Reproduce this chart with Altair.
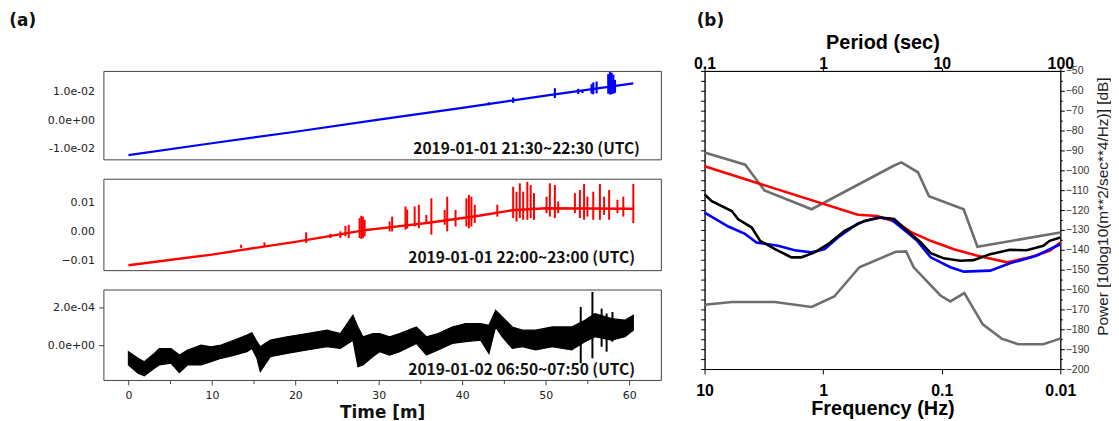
import altair as alt
import pandas as pd

# ---------------- panel (a) data ----------------
labels_a = ["2019-01-01 21:30~22:30 (UTC)",
            "2019-01-01 22:00~23:00 (UTC)",
            "2019-01-02 06:50~07:50 (UTC)"]

blue_t = [0, 10, 20, 30, 40, 50, 60.5]
blue_v = [-0.0121, -0.0080, -0.0040, 0.0002, 0.0043, 0.0085, 0.0128]
blue_spike_t = [43.2, 46.1, 51.1, 53.9, 54.4, 55.5, 55.7, 56.1, 57.5, 57.7, 57.9, 58.1, 58.3]
blue_spike_lo = [0.0052, 0.0060, 0.0077, 0.0091, 0.0094, 0.0092, 0.0090, 0.0093,
                 0.0092, 0.0089, 0.0090, 0.0092, 0.0095]
blue_spike_hi = [0.0062, 0.0079, 0.0111, 0.0109, 0.0105, 0.0125, 0.0131, 0.0134,
                 0.0160, 0.0167, 0.0165, 0.0158, 0.0140]

red_t = [0, 10, 20, 28.5, 31, 36, 42, 46, 50, 55, 60.5]
red_v = [-0.0117, -0.0080, -0.0036, 0.0005, 0.0013, 0.0030, 0.0054, 0.0073, 0.0080, 0.0079, 0.0078]
red_spike_t = [13.5, 16.3, 21.3, 24.2, 25.4, 26.0, 26.4, 27.7, 27.9, 28.1, 28.3,
               31.3, 31.6, 33.2, 33.4, 34.3, 34.8, 35.7, 36.3, 37.9, 38.2, 39.2,
               40.5, 40.8, 41.1, 41.5, 44.2, 46.1, 46.5, 46.9, 47.3, 47.8, 48.2,
               48.6, 50.1, 50.5, 51.1, 51.5, 53.5, 54.1, 54.6, 55.0, 55.7, 56.5,
               57.0, 57.6, 58.6, 59.3, 60.5]
red_spike_lo = [-5.7, -5.4, -4.0, -2.3, -2.3, -1.7, -2.3, -2.3, -2.6, -2.3, -1.7,
                0.0, 0.0, 0.6, 1.0, 1.7, 1.1, 2.9, -1.1, 2.3, 0.0, 1.7,
                1.7, 1.1, 1.7, 2.9, 5.1, 4.6, 3.4, 4.6, 4.0, 4.0, 4.6,
                4.0, 6.3, 5.1, 4.6, 6.3, 6.3, 4.6, 4.0, 5.1, 4.0, 4.0,
                5.7, 4.0, 6.3, 5.1, 2.9]
red_spike_hi = [-4.6, -3.8, -0.3, -0.8, 0.0, 1.9, 2.3, 4.6, 5.4, 5.1, 4.0,
                3.4, 5.1, 8.6, 7.5, 8.6, 9.2, 5.7, 11.4, 7.4, 12.0, 7.4,
                11.4, 12.6, 12.0, 9.2, 9.2, 15.4, 13.7, 16.6, 13.7, 17.1, 16.0,
                13.2, 12.0, 16.6, 16.0, 10.3, 13.2, 14.3, 16.4, 12.0, 13.7, 16.4,
                12.0, 14.3, 10.9, 12.0, 16.4]

black_t = [0.0, 1.15, 1.9, 3.1, 3.7, 5.1, 6.1, 7.1, 8.7, 9.9, 11.1, 12.7, 14.2, 14.8,
           15.4, 15.8, 17.0, 19.0, 21.4, 23.8, 25.4, 26.9, 27.5, 28.1, 29.3, 30.1,
           31.3, 32.5, 34.5, 35.7, 37.1, 38.8, 40.4, 42.2, 43.2, 44.0, 44.8, 46.0,
           47.2, 48.8, 50.8, 53.1, 54.7, 55.9, 57.9, 59.5, 60.5]
black_hi = [-0.35, -0.70, -0.88, -0.44, -0.18, -0.18, -0.53, -0.26, 0.0, -0.09, 0.0, 0.26,
            0.53, 0.65, 0.18, -0.09, 0.26, 0.44, 0.61, 0.79, 0.61, 1.58, 0.96, 0.44, 0.61,
            0.61, 0.44, 0.61, 0.96, 0.44, 0.61, 0.96, 1.14, 1.14, 1.05, 1.84, 1.49, 0.96,
            0.79, 0.79, 0.96, 0.96, 1.32, 1.67, 1.40, 1.32, 1.58]
black_lo = [-1.05, -1.49, -1.63, -1.23, -1.05, -0.96, -1.46, -1.05, -1.05, -0.88, -0.70, -0.53,
            -0.35, -0.18, -0.70, -1.40, -0.61, -0.44, -0.26, -0.09, -0.18, 0.26, -1.14, -1.05,
            -0.61, -0.35, -0.53, -0.35, 0.09, -0.53, -0.26, 0.09, 0.18, 0.26, -0.44, 0.96,
            0.44, -0.18, -0.09, -0.26, -0.09, -0.26, 0.18, 0.44, 0.26, 0.44, 0.79]
black_spike_t = [54.2, 55.6, 56.7, 57.3, 58.0]
black_spike_lo = [-0.96, -0.70, -0.09, -0.35, 0.18]
black_spike_hi = [2.02, 2.81, 1.93, 1.67, 1.75]

# ---------------- panel (b) data ----------------
nhnm_T = [0.1, 0.22, 0.32, 0.8, 3.97, 4.57, 6.3, 7.8, 15.3, 20, 100]
nhnm_db = [-91, -97.2, -110.2, -119.6, -97.6, -96, -101, -113, -119.6, -138.5, -131.3]
nlnm_T = [0.1, 0.17, 0.39, 0.8, 1.24, 2.02, 4.1, 5.0, 5.8, 9.75, 11.8, 15.5, 22.2, 32, 44, 71.8, 100]
nlnm_db = [-167.7, -166.3, -166.3, -168.8, -163.5, -148.8, -141, -140.8, -148.8, -163, -166,
           -161.8, -177.5, -184.7, -187.5, -187.5, -184.7]

red_f = [10, 0.51, 0.35, 0.237, 0.183, 0.124, 0.079, 0.05, 0.028, 0.018, 0.0123, 0.01]
red_db = [-98, -122.4, -123, -126.3, -131, -135.5, -139.7, -143, -146.3, -143.8, -140.5, -136.3]
blue_f = [10, 6.3, 4.56, 3.65, 2.4, 1.74, 1.26, 0.97, 0.75, 0.51, 0.35, 0.27, 0.195, 0.161,
          0.124, 0.0845, 0.065, 0.039, 0.0266, 0.0159, 0.01]
blue_db = [-121.3, -128.3, -132, -136.3, -138, -140.2, -141.3, -139.7, -133.8, -126.7, -123.8,
           -124.5, -131.3, -135.5, -143.8, -148.8, -151, -150.5, -146.8, -143, -137.2]
black_f = [10, 8.7, 5.9, 5.2, 4.0, 3.4, 2.55, 1.85, 1.53, 1.18, 0.91, 0.66, 0.45, 0.326, 0.252,
           0.195, 0.15, 0.124, 0.096, 0.07, 0.054, 0.039, 0.0266, 0.0192, 0.0139, 0.0123, 0.01]
black_db = [-112.2, -115.5, -120.5, -124.7, -128.8, -135.5, -139.7, -143.8, -143.8, -141.3, -137.2,
            -130.5, -125.5, -123.8, -124.5, -130.5, -136.3, -141.7, -144.3, -145.5, -145.2, -142.2,
            -140, -140.2, -138, -135.5, -133.8]

# ---------------- styling ----------------
FA = "DejaVu Sans"
FK = "Noto Sans CJK KR"
FB = "Liberation Sans"
FRAME = "#444444"
W = 561
H1, H2, H3 = 89, 92, 91

xs = alt.Scale(domain=[-3.0, 63.8], nice=False, zero=False)


def yaxis(values, label_expr=None, fmt=None, ticks_visible=False):
    kw = dict(values=values, title=None, grid=False, domain=False, labelFont=FA, labelFontSize=11,
              labelColor="#222", tickSize=5, labelPadding=4, tickColor=FRAME, labelFlush=False,
              labelOverlap=False)
    if label_expr:
        kw["labelExpr"] = label_expr
    if fmt:
        kw["format"] = fmt
    if not ticks_visible:
        kw["tickOpacity"] = 0
    return alt.Axis(**kw)


def annotation(text, h, right_in, bottom_in):
    return alt.Chart(pd.DataFrame({"label": [text]})).mark_text(
        font=FK, fontSize=15.6, fontWeight="bold", align="right", baseline="alphabetic", color="#111"
    ).encode(x=alt.value(W - right_in), y=alt.value(h - bottom_in), text="label:N")


# top panel (blue)
ys1 = alt.Scale(domain=[-0.01359, 0.0171], nice=False, zero=False)
ax1 = yaxis([-0.01, 0, 0.01],
            "datum.value > 0.005 ? '1.0e-02' : (datum.value < -0.005 ? '-1.0e-02' : '0.0e+00')")
p1_line = alt.Chart(pd.DataFrame({"t": blue_t, "v": blue_v})).mark_line(
    color="#0000ff", strokeWidth=2.2).encode(
    x=alt.X("t:Q", scale=xs, axis=None), y=alt.Y("v:Q", scale=ys1, axis=ax1))
p1_sp = alt.Chart(pd.DataFrame({"t": blue_spike_t, "lo": blue_spike_lo, "hi": blue_spike_hi})).mark_rule(
    color="#0000ff", strokeWidth=2.2).encode(
    x=alt.X("t:Q", scale=xs, axis=None), y=alt.Y("lo:Q", scale=ys1, axis=ax1), y2="hi:Q")
tag_a = alt.Chart(pd.DataFrame({"label": ["(a)"]})).mark_text(
    font=FA, fontSize=17, fontWeight="bold", align="left", baseline="alphabetic", color="#111"
).encode(x=alt.value(-94.7), y=alt.value(-45.4), text="label:N")
p1 = alt.layer(p1_line, p1_sp, annotation(labels_a[0], H1, 21, 5.5), tag_a).properties(width=W, height=H1)

# middle panel (red)
ys2 = alt.Scale(domain=[-0.01338, 0.01818], nice=False, zero=False)
ax2 = yaxis([-0.01, 0, 0.01], fmt=".2f")
red_sp = pd.DataFrame({"t": red_spike_t,
                       "lo": [v / 1000 for v in red_spike_lo],
                       "hi": [v / 1000 for v in red_spike_hi]})
p2_line = alt.Chart(pd.DataFrame({"t": red_t, "v": red_v})).mark_line(
    color="#ff0000", strokeWidth=2.4).encode(
    x=alt.X("t:Q", scale=xs, axis=None), y=alt.Y("v:Q", scale=ys2, axis=ax2))
p2_sp = alt.Chart(red_sp).mark_rule(color="#ff0000", strokeWidth=2).encode(
    x=alt.X("t:Q", scale=xs, axis=None), y=alt.Y("lo:Q", scale=ys2, axis=ax2), y2="hi:Q")
p2 = alt.layer(p2_line, p2_sp, annotation(labels_a[1], H2, 26, 7.3)).properties(width=W, height=H2)

# bottom panel (black)
ys3 = alt.Scale(domain=[-1.847e-4, 2.942e-4], nice=False, zero=False)
ax3 = yaxis([0, 2e-4], "datum.value > 0.0001 ? '2.0e-04' : '0.0e+00'", ticks_visible=True)
xax3 = alt.Axis(values=list(range(0, 61, 5)),
                labelExpr="datum.value % 10 === 0 ? datum.label : ''",
                title="Time [m]", titleFont=FA, titleFontSize=17, titleFontWeight="bold",
                titleColor="#111", titlePadding=4, labelFont=FA, labelFontSize=11,
                labelColor="#222", labelPadding=5,
                tickSize={"condition": {"test": "datum.value % 10 === 0", "value": 5}, "value": 3.5},
                tickColor=FRAME, domain=False, grid=False, labelFlush=False, labelOverlap=False)
band = pd.DataFrame({"t": black_t, "lo": [v * 1e-4 for v in black_lo], "hi": [v * 1e-4 for v in black_hi]})
bsp = pd.DataFrame({"t": black_spike_t, "lo": [v * 1e-4 for v in black_spike_lo],
                    "hi": [v * 1e-4 for v in black_spike_hi]})
p3_band = alt.Chart(band).mark_area(color="#000000", opacity=1, stroke="#000000", strokeWidth=1.2).encode(
    x=alt.X("t:Q", scale=xs, axis=xax3), y=alt.Y("hi:Q", scale=ys3, axis=ax3), y2="lo:Q")
p3_sp = alt.Chart(bsp).mark_rule(color="#000000", strokeWidth=2).encode(
    x=alt.X("t:Q", scale=xs, axis=xax3), y=alt.Y("lo:Q", scale=ys3, axis=ax3), y2="hi:Q")
p3 = alt.layer(p3_band, p3_sp, annotation(labels_a[2], H3, 26, 4.7)).properties(width=W, height=H3)

left = alt.vconcat(p1, p2, p3, spacing=17.5)

# ---------------- panel (b) ----------------
yb = alt.Scale(domain=[-200, -50], nice=False, zero=False)
left_ax = alt.Axis(orient="left", values=list(range(-200, -49, 5)), labels=False, tickSize=4,
                   tickColor="#000", domainColor="#000", title=None, grid=False)
right_ax = alt.Axis(orient="right", values=list(range(-200, -49, 5)),
                    labelExpr="datum.value % 10 === 0 ? datum.label : ''", format="d",
                    tickSize={"condition": {"test": "datum.value % 10 === 0", "value": 4}, "value": 2},
                    labelFont=FB, labelFontSize=10.5, labelColor="#333", labelPadding=1,
                    title="Power [10log10(m**2/sec**4/Hz)] [dB]", titleFont=FB, titleFontSize=15.5,
                    titleFontWeight="normal", titleColor="#222", titleAngle=270, titleX=42,
                    titleY=136, titleAlign="center", titleBaseline="middle",
                    domainColor="#000", tickColor="#000", grid=False, labelOverlap=False,
                    labelFlush=False)
top_ax = alt.Axis(orient="top", values=[0.1, 1, 10, 100], format="~g", title="Period (sec)",
                  titleFont=FB, titleFontSize=20, titleFontWeight="bold", titleColor="#000",
                  titlePadding=3, labelFont=FB, labelFontSize=16, labelFontWeight="bold",
                  labelColor="#000", labelPadding=-3.7, tickSize=3, tickColor="#000",
                  domainColor="#000", grid=False, labelFlush=False, labelOverlap=False)
bot_ax = alt.Axis(orient="bottom", values=[10, 1, 0.1, 0.01], format="~g", title="Frequency (Hz)",
                  titleFont=FB, titleFontSize=20, titleFontWeight="bold", titleColor="#000",
                  titlePadding=0, labelFont=FB, labelFontSize=16, labelFontWeight="bold",
                  labelColor="#000", labelPadding=9, tickSize=5, tickColor="#000",
                  domainColor="#000", grid=False, labelFlush=False, labelOverlap=False)

nm_df = pd.DataFrame({"period": nhnm_T + nlnm_T, "db": nhnm_db + nlnm_db,
                      "model": ["NHNM"] * len(nhnm_T) + ["NLNM"] * len(nlnm_T)})
psd_df = pd.DataFrame({"freq": red_f + blue_f + black_f, "db": red_db + blue_db + black_db,
                       "series": ["red"] * len(red_f) + ["blue"] * len(blue_f) + ["black"] * len(black_f)})

grey = alt.Chart(nm_df).mark_line(color="#6e6e6e", strokeWidth=2.6).encode(
    x=alt.X("period:Q", scale=alt.Scale(type="log", domain=[0.1, 100], nice=False), axis=top_ax),
    y=alt.Y("db:Q", scale=yb, axis=left_ax), detail="model:N")
psd = alt.Chart(psd_df).mark_line(strokeWidth=2.6).encode(
    x=alt.X("freq:Q", scale=alt.Scale(type="log", domain=[0.01, 10], reverse=True, nice=False),
            axis=bot_ax),
    y=alt.Y("db:Q", scale=yb, axis=right_ax),
    color=alt.Color("series:N", scale=alt.Scale(domain=["red", "blue", "black"],
                                                range=["#ff0000", "#0000ff", "#000000"]),
                    legend=None))
tag_b = alt.Chart(pd.DataFrame({"label": ["(b)"]})).mark_text(
    font=FA, fontSize=17, fontWeight="bold", align="left", baseline="alphabetic", color="#111"
).encode(x=alt.value(-8), y=alt.value(-45.4), text="label:N")

right = alt.layer(grey, psd, tag_b).resolve_scale(x="independent").resolve_axis(
    y="independent").properties(width=358, height=300)

chart = alt.hconcat(left, right, spacing=31).properties(
    padding={"left": 0, "top": 2, "right": 0, "bottom": 0}
).configure_view(stroke=FRAME, strokeWidth=1)

chart.save("out.html", embed_options={"renderer": "svg", "actions": False})
